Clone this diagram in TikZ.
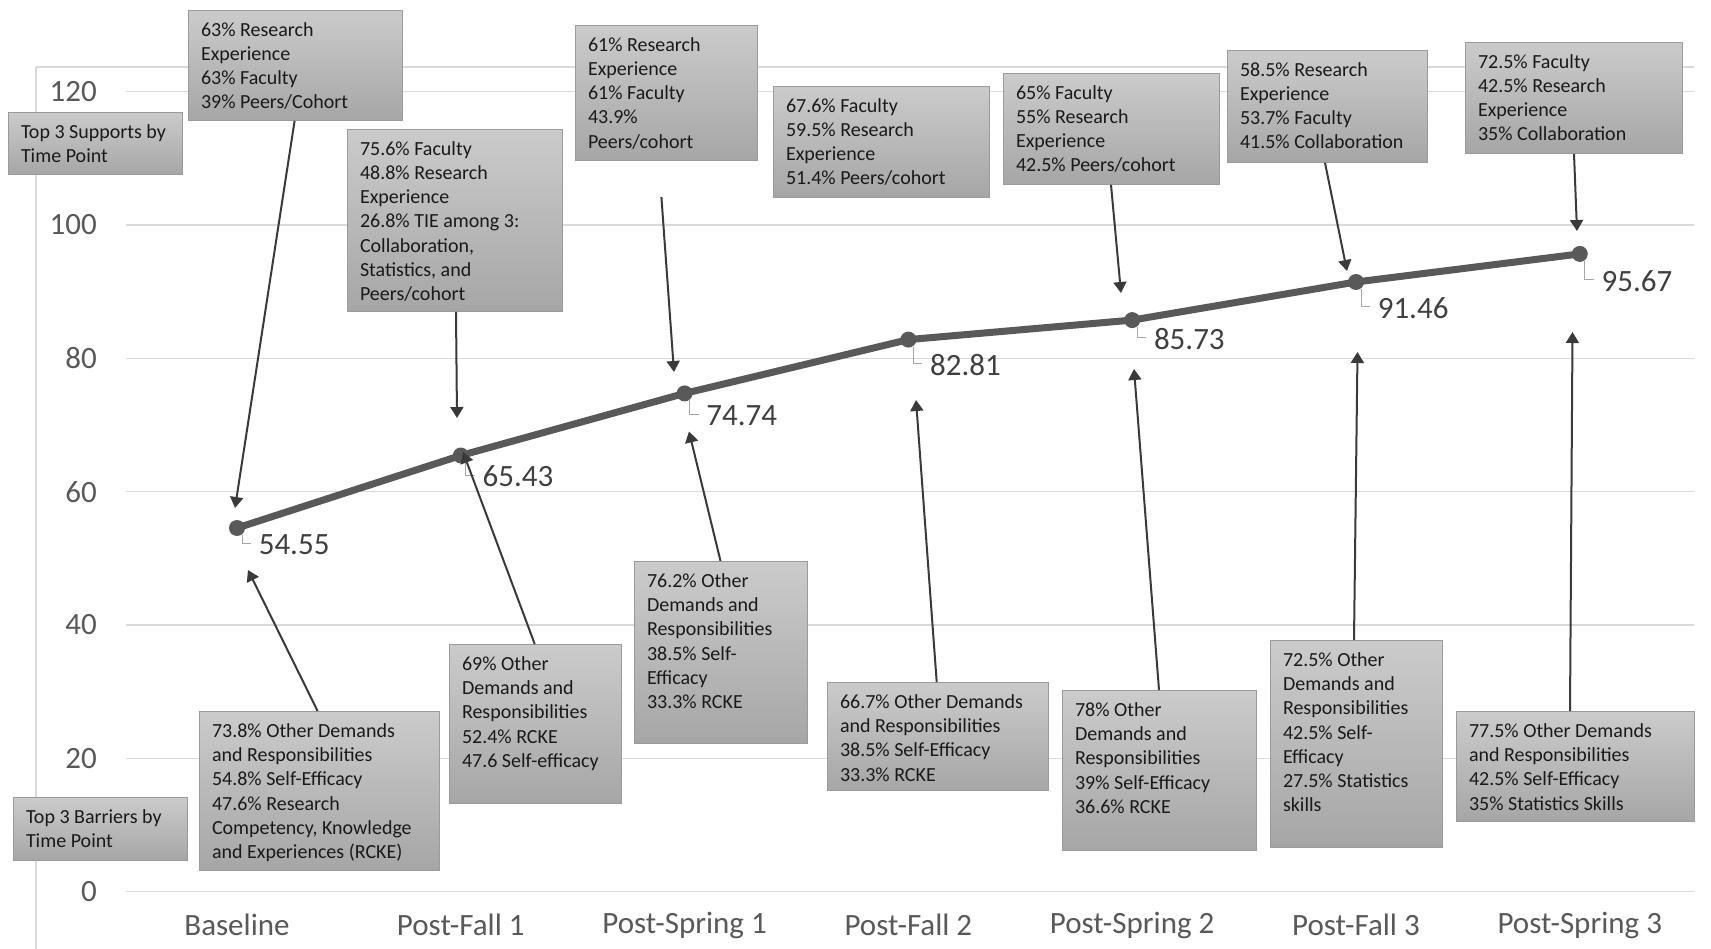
\documentclass[tikz,border=0pt]{standalone}
\usepackage{fontspec}
\setmainfont{Carlito}
\usetikzlibrary{arrows.meta}
\definecolor{gridc}{HTML}{D9D9D9}
\definecolor{axtxt}{HTML}{595959}
\definecolor{linec}{HTML}{595959}
\definecolor{arrc}{HTML}{3A3A3A}
\definecolor{boxtop}{HTML}{CBCBCB}
\definecolor{boxbot}{HTML}{A6A6A6}
\definecolor{boxedge}{HTML}{9A9A9A}
\definecolor{boxtxt}{HTML}{1A1A1A}
\definecolor{leadc}{HTML}{A6A6A6}
\definecolor{dlabc}{HTML}{404040}
\tikzset{
  gridline/.style={draw=gridc, line width=1.5pt},
  calloutbox/.style={rectangle, inner sep=0pt, draw=boxedge, line width=0.8pt,
    top color=boxtop, bottom color=boxbot, text=boxtxt,
    font=\fontsize{20}{24.2}\selectfont},
  ylab/.style={text=axtxt, font=\fontsize{31}{35}\selectfont, anchor=east, inner sep=0pt},
  xlab/.style={text=axtxt, font=\fontsize{31}{35}\selectfont, inner sep=0pt},
  datapt/.style={circle, fill=linec, minimum size=16pt, inner sep=0pt},
  dataline/.style={draw=linec, line width=7pt, line join=round},
  dlabel/.style={text=dlabc, font=\fontsize{31}{35}\selectfont, anchor=west, inner sep=0pt},
  leader/.style={draw=leadc, line width=1pt},
  callarrow/.style={draw=arrc, line width=2pt, -{Triangle[width=13pt,length=11pt]}}
}
\newcommand\callout[6]{%
  \node[calloutbox, anchor=north west] (#1) at (#2,#3)
  {\parbox[c][#5pt][t]{#4pt}{\raggedright\leftskip=12.6pt\leavevmode\rule{0pt}{26pt}#6}};}
\begin{document}
\begin{tikzpicture}[x=1pt,y=-1pt]
\useasboundingbox (0,0) rectangle (1711,949);
\fill[white] (0,0) rectangle (1711,949);
% frame
\draw[gridline] (36,67) -- (36,949);
\draw[gridline] (36,67) -- (1694,67);
% gridlines
\foreach \v in {0,20,...,120}{
  \draw[gridline] (126,{891.7-6.667*\v}) -- (1694,{891.7-6.667*\v});
}
% y labels
\node[ylab] (y0) at (97,891.7) {0};
\node[ylab] (y20) at (97,758.4) {20};
\node[ylab] (y40) at (97,625.0) {40};
\node[ylab] (y60) at (97,491.7) {60};
\node[ylab] (y80) at (97,358.3) {80};
\node[ylab] (y100) at (97,225.0) {100};
\node[ylab] (y120) at (97,91.7) {120};
% x labels
\node[xlab] (x1) at (237,925) {Baseline};
\node[xlab] (x2) at (460.8,925) {Post-Fall 1};
\node[xlab] (x3) at (684.6,925) {Post-Spring 1};
\node[xlab] (x4) at (908.4,925) {Post-Fall 2};
\node[xlab] (x5) at (1132.2,925) {Post-Spring 2};
\node[xlab] (x6) at (1356,925) {Post-Fall 3};
\node[xlab] (x7) at (1579.8,925) {Post-Spring 3};
% data points
\node[datapt] (p1) at (237,528.0) {};
\node[datapt] (p2) at (460.8,455.5) {};
\node[datapt] (p3) at (684.6,393.4) {};
\node[datapt] (p4) at (908.4,339.6) {};
\node[datapt] (p5) at (1132.2,320.1) {};
\node[datapt] (p6) at (1356,282.0) {};
\node[datapt] (p7) at (1579.8,253.9) {};
\draw[dataline] (p1.center) -- (p2.center) -- (p3.center) -- (p4.center) -- (p5.center) -- (p6.center) -- (p7.center);
% data labels with leader lines
\foreach \p/\t/\d in {p1/54.55/16.5,p2/65.43/21,p3/74.74/22,p4/82.81/25,p5/85.73/18.5,p6/91.46/26,p7/95.67/27}{
  \draw[leader] (\p.center) ++(5,7) -- ++(0,{\d-8}) -- ++(9,0);
  \node[dlabel] (lab\p) at ([xshift=21.6pt,yshift=-\d pt]\p.center) {\t};
}
% support boxes
\callout{sup}{8}{112}{174}{62}{Top 3 Supports by\\Time Point}
\callout{s1}{188}{10}{214}{110}{63\% Research\\Experience\\63\% Faculty\\39\% Peers/Cohort}
\callout{s2}{347}{129}{215}{182}{75.6\% Faculty\\48.8\% Research\\Experience\\26.8\% TIE among 3:\\Collaboration,\\Statistics, and\\Peers/cohort}
\callout{s3}{575}{25}{182}{135}{61\% Research\\Experience\\61\% Faculty\\43.9\%\\Peers/cohort}
\callout{s4}{773}{86}{216}{111}{67.6\% Faculty\\59.5\% Research\\Experience\\51.4\% Peers/cohort}
\callout{s5}{1003}{73}{216}{111}{65\% Faculty\\55\% Research\\Experience\\42.5\% Peers/cohort}
\callout{s6}{1227}{50}{200}{112}{58.5\% Research\\Experience\\53.7\% Faculty\\41.5\% Collaboration}
\callout{s7}{1465}{42}{217}{111}{72.5\% Faculty\\42.5\% Research\\Experience\\35\% Collaboration}
% barrier boxes
\callout{bar}{13}{797}{174}{63}{Top 3 Barriers by\\Time Point}
\callout{c1}{199}{711}{240}{159}{73.8\% Other Demands\\and Responsibilities\\54.8\% Self-Efficacy\\47.6\% Research\\Competency, Knowledge\\and Experiences (RCKE)}
\callout{c2}{449}{644}{172}{159}{69\% Other\\Demands and\\Responsibilities\\52.4\% RCKE\\47.6 Self-efficacy}
\callout{c3}{634}{561}{173}{182}{76.2\% Other\\Demands and\\Responsibilities\\38.5\% Self-\\Efficacy\\33.3\% RCKE}
\callout{c4}{827}{682}{221}{108}{66.7\% Other Demands\\and Responsibilities\\38.5\% Self-Efficacy\\33.3\% RCKE}
\callout{c5}{1062}{690}{194}{160}{78\% Other\\Demands and\\Responsibilities\\39\% Self-Efficacy\\36.6\% RCKE}
\callout{c6}{1270}{640}{172}{207}{72.5\% Other\\Demands and\\Responsibilities\\42.5\% Self-\\Efficacy\\27.5\% Statistics\\skills}
\callout{c7}{1456}{711}{238}{110}{77.5\% Other Demands\\and Responsibilities\\42.5\% Self-Efficacy\\35\% Statistics Skills}
% arrow tips and free ends
\coordinate (ta1) at (235,508);
\coordinate (ta2) at (457,418);
\coordinate (sa3) at (661.4,197);
\coordinate (ta3) at (674,372);
\coordinate (ta5) at (1121,293);
\coordinate (ta6) at (1347,271);
\coordinate (ta7) at (1577,231);
\coordinate (tb1) at (248,570);
\coordinate (tb2) at (463,452);
\coordinate (tb3) at (689,431.5);
\coordinate (tb4) at (916,400);
\coordinate (tb5) at (1134,369);
\coordinate (tb6) at (1357.5,352);
\coordinate (tb7) at (1572.5,332);
% support arrows
\draw[callarrow] ([xshift=106.6pt]s1.south west) -- (ta1);
\draw[callarrow] ([xshift=109pt]s2.south west) -- (ta2);
\draw[callarrow] (sa3) -- (ta3);
\draw[callarrow] ([xshift=108pt]s5.south west) -- (ta5);
\draw[callarrow] ([xshift=98pt]s6.south west) -- (ta6);
\draw[callarrow] ([xshift=109pt]s7.south west) -- (ta7);
% barrier arrows
\draw[callarrow] ([xshift=118.6pt]c1.north west) -- (tb1);
\draw[callarrow] ([xshift=85.7pt]c2.north west) -- (tb2);
\draw[callarrow] ([xshift=86.5pt]c3.north west) -- (tb3);
\draw[callarrow] ([xshift=109.7pt]c4.north west) -- (tb4);
\draw[callarrow] ([xshift=97pt]c5.north west) -- (tb5);
\draw[callarrow] ([xshift=84pt]c6.north west) -- (tb6);
\draw[callarrow] ([xshift=114pt]c7.north west) -- (tb7);
\end{tikzpicture}
\end{document}
